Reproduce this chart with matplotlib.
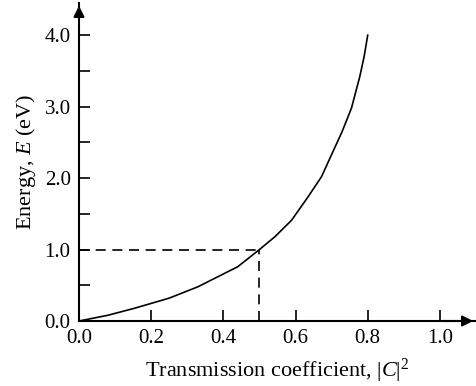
import matplotlib
matplotlib.use("Agg")
import matplotlib.pyplot as plt

plt.rcParams['font.family'] = ['Liberation Serif', 'DejaVu Serif']
plt.rcParams['mathtext.fontset'] = 'custom'
plt.rcParams['mathtext.rm'] = 'Liberation Serif'
plt.rcParams['mathtext.it'] = 'Liberation Serif:italic'

# data
transmission = [0.0, 0.08, 0.155, 0.25, 0.33, 0.44, 0.5, 0.543, 0.589, 0.635,
                0.672, 0.70, 0.729, 0.755, 0.778, 0.79, 0.8]
energy = [0.0, 0.08, 0.18, 0.32, 0.48, 0.76, 1.0, 1.18, 1.41, 1.74,
          2.02, 2.33, 2.65, 2.98, 3.42, 3.7, 4.0]
marker_T = 0.5
marker_E = 1.0
x_ticks = [0.0, 0.2, 0.4, 0.6, 0.8, 1.0]
x_ticklabels = ['0.0', '0.2', '0.4', '0.6', '0.8', '1.0']
y_ticks = [0.0, 1.0, 2.0, 3.0, 4.0]
y_ticklabels = ['0.0', '1.0', '2.0', '3.0', '4.0']
y_minor = [0.5, 1.5, 2.5, 3.5]

fig = plt.figure(figsize=(4.76, 3.86), dpi=100)
ax = fig.add_axes([79/476, 65/386, (476-79)/476, (321-3)/386])
ax.set_xlim(0, 1.1)
ax.set_ylim(0, 4.45)

ax.plot(transmission, energy, color='black', lw=1.2)
ax.plot([0, marker_T], [marker_E, marker_E], color='black', lw=1.2, dashes=(6, 4))
ax.plot([marker_T, marker_T], [0, marker_E], color='black', lw=1.2, dashes=(6, 4))

for s in ['top', 'right']:
    ax.spines[s].set_visible(False)
for s in ['left', 'bottom']:
    ax.spines[s].set_linewidth(1.5)

ax.set_xticks(x_ticks)
ax.set_xticklabels(x_ticklabels)
ax.set_yticks(y_ticks)
ax.set_yticklabels(y_ticklabels)
ax.set_yticks(y_minor, minor=True)
ax.tick_params(axis='both', which='both', direction='in', length=8, width=1.2,
               labelsize=15, pad=6)

ax.annotate('', xy=(1.1, 0), xytext=(1.0, 0), xycoords='data',
            arrowprops=dict(arrowstyle='-|>', color='black', lw=1.5, mutation_scale=16),
            annotation_clip=False)
ax.annotate('', xy=(0, 4.45), xytext=(0, 4.2), xycoords='data',
            arrowprops=dict(arrowstyle='-|>', color='black', lw=1.5, mutation_scale=16),
            annotation_clip=False)

ax.set_xlabel(r'Transmission coefficient, $|C|^2$', fontsize=16, labelpad=6)
ax.set_ylabel(r'Energy, $E$ (eV)', fontsize=16, labelpad=5)

fig.savefig('out.png', dpi=100)
